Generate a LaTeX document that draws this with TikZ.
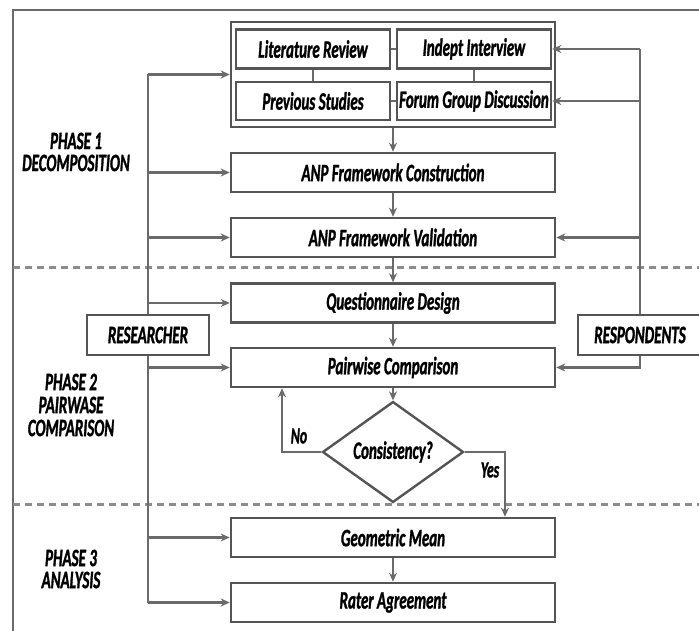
\documentclass[tikz,border=0pt]{standalone}
\usepackage{fontspec}
\setmainfont{Carlito}[FakeStretch=0.6,FakeBold=1.2]
\usetikzlibrary{shapes.geometric,arrows.meta}
\definecolor{boxc}{HTML}{555555}
\definecolor{linec}{HTML}{6A6A6A}
\definecolor{dashc}{HTML}{8C8C8C}
\tikzset{
  lbl/.style={font=\fontsize{25}{20}\selectfont\bfseries\itshape, text=black},
  stepbox/.style={draw=boxc, line width=2.6pt, rectangle, minimum width=324pt, minimum height=39pt, inner sep=0pt, lbl},
  srcbox/.style={draw=boxc, line width=2.6pt, rectangle, minimum width=154pt, minimum height=39pt, inner sep=0pt, lbl},
  actor/.style={draw=boxc, line width=2.6pt, rectangle, minimum height=40pt, inner sep=0pt, lbl},
  decide/.style={draw=boxc, line width=2.4pt, diamond, minimum width=141pt, minimum height=79pt, inner sep=0pt, lbl},
  conn/.style={draw=linec, line width=2.2pt},
  arr/.style={conn, -{Stealth[length=9pt,width=8pt]}},
  phase/.style={lbl, align=center, font=\fontsize{25}{22}\selectfont\bfseries\itshape},
  sep/.style={draw=dashc, line width=3pt, dash pattern=on 7pt off 5pt}
}
\begin{document}
\begin{tikzpicture}[x=1pt,y=-1pt]
\useasboundingbox[fill=white] (0,0) rectangle (699,631);
% outer frame
\draw[draw=linec, line width=1.8pt] (13,640) -- (13,10) -- (710,10);
% phase separators
\draw[sep] (13,268) -- (699,268);
\draw[sep] (13,504) -- (699,504);

% phase labels
\node[phase] (p1) at (76,152) {PHASE 1\\DECOMPOSITION};
\node[phase, font=\fontsize{25}{23}\selectfont\bfseries\itshape] (p2) at (71,405) {PHASE 2\\PAIRWASE\\COMPARISON};
\node[phase] (p3) at (71,569) {PHASE 3\\ANALYSIS};

% source group
\node[draw=boxc, line width=2.6pt, rectangle, minimum width=324pt, minimum height=105pt, inner sep=0pt] (grp) at (393,74.5) {};
\node[srcbox] (lr) at (313,49) {Literature Review};
\node[srcbox] (ii) at (474,49) {Indept Interview};
\node[srcbox, minimum height=38pt] (ps) at (313,101) {Previous Studies};
\node[srcbox, minimum height=38pt] (fgd) at (474,101) {Forum Group Discussion};
\draw[conn, line width=1.6pt] (lr) -- (ii);
\draw[conn, line width=1.6pt] (ps) -- (fgd);
\draw[conn, line width=1.6pt] (lr) -- (ps);
\draw[conn, line width=1.6pt] (ii) -- (fgd);

% steps
\node[stepbox] (anpc) at (393,172.5) {ANP Framework Construction};
\node[stepbox] (anpv) at (393,237.5) {ANP Framework Validation};
\node[stepbox] (qd) at (393,303) {Questionnaire Design};
\node[stepbox] (pc) at (393,367.5) {Pairwise Comparison};
\node[decide] (cons) at (393,452) {Consistency?};
\node[stepbox] (gm) at (393,537.5) {Geometric Mean};
\node[stepbox] (ra) at (393,602.5) {Rater Agreement};

% actors
\node[actor, minimum width=122pt] (res) at (148,335) {RESEARCHER};
\node[actor, minimum width=124pt] (resp) at (640,335) {RESPONDENTS};

% main flow
\draw[arr] (grp.south) -- (anpc.north);
\draw[arr] (anpc) -- (anpv);
\draw[arr] (anpv) -- (qd);
\draw[arr] (qd) -- (pc);
\draw[arr] (pc) -- (cons);
\draw[arr] (gm) -- (ra);

% decision branches
\coordinate (noc) at (282,452);
\coordinate (yesc) at (505,452);
\draw[arr] (cons.west) -- (noc) -- (noc |- pc.south);
\draw[arr] (cons.east) -- (yesc) -- (yesc |- gm.north);
\node[lbl, font=\fontsize{23}{20}\selectfont\bfseries\itshape] (no) at (299,436) {No};
\node[lbl, font=\fontsize{23}{20}\selectfont\bfseries\itshape] (yes) at (490,470) {Yes};

% researcher links
\coordinate (rtop) at (148,74.5);
\coordinate (rbot) at (148,602.5);
\draw[conn] (rtop) -- (res.north);
\draw[conn] (res.south) -- (rbot);
\draw[arr] (rtop) -- (grp.west);
\draw[arr] (res.center |- anpc) -- (anpc.west);
\draw[arr] (res.center |- anpv) -- (anpv.west);
\draw[arr] (res.center |- qd) -- (qd.west);
\draw[arr] (res.center |- pc) -- (pc.west);
\draw[arr] (res.center |- gm) -- (gm.west);
\draw[arr] (rbot) -- (ra.west);

% respondent links
\coordinate (ptop) at (640,49);
\draw[conn] (ptop) -- (resp.north);
\draw[arr] (ptop) -- (ii.east);
\draw[arr] (resp.center |- fgd) -- (fgd.east);
\draw[arr] (resp.center |- anpv) -- (anpv.east);
\draw[arr] (resp.south) |- (pc.east);
\end{tikzpicture}
\end{document}
